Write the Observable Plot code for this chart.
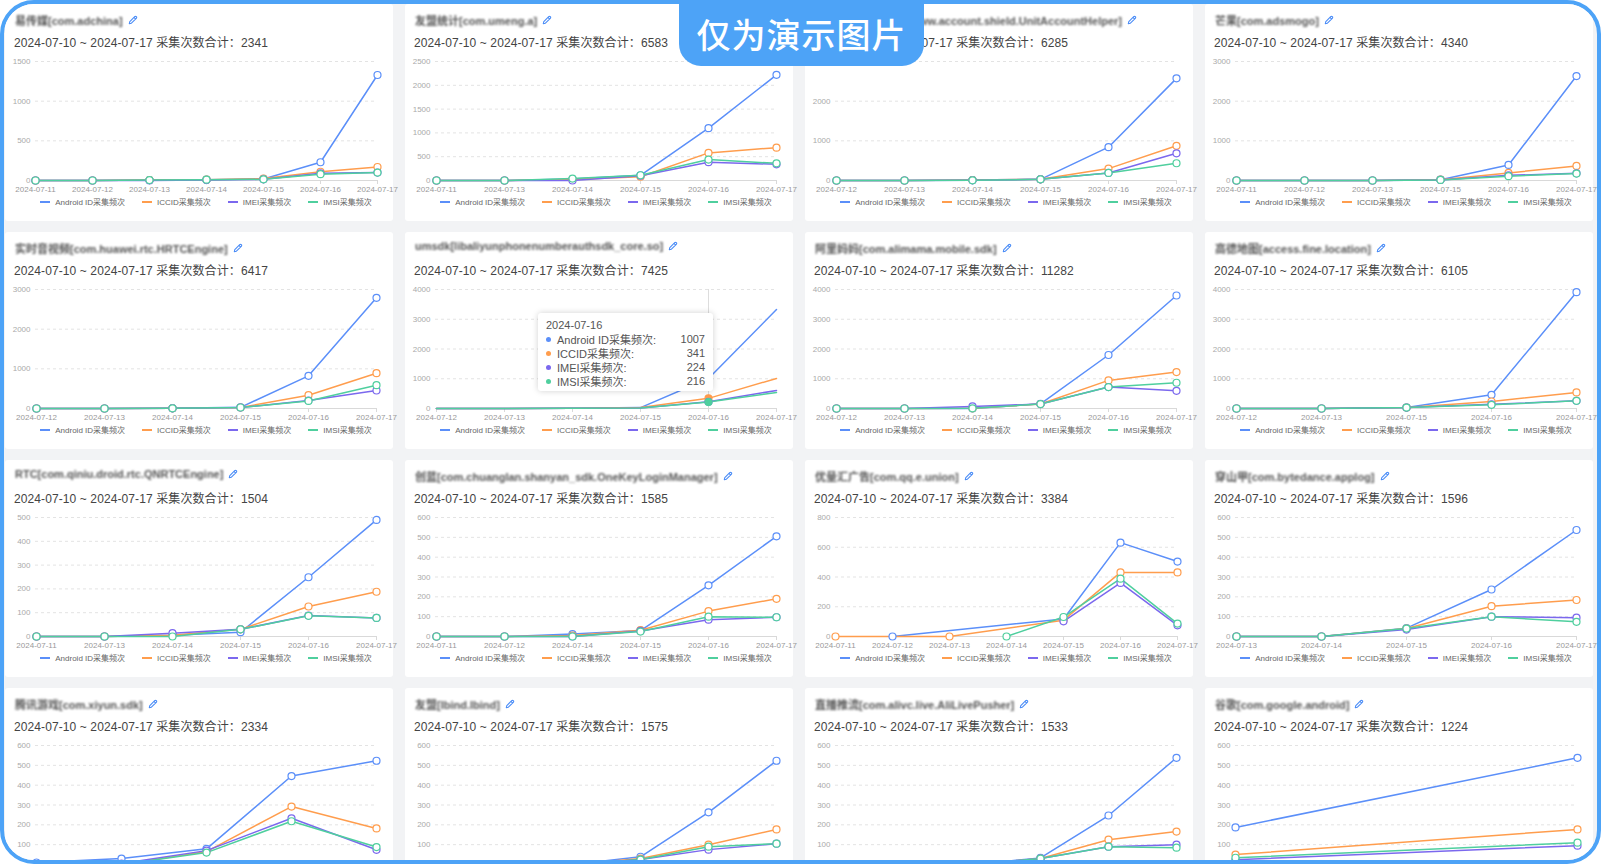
<!DOCTYPE html>
<html><head><meta charset="utf-8">
<script src="https://cdn.jsdelivr.net/npm/d3@7"></script>
<script src="https://cdn.jsdelivr.net/npm/@observablehq/plot@0.6"></script>
<style>
body{margin:0;background:#fff;width:1601px;height:864px;overflow:hidden;font-family:"Liberation Sans","Noto Sans CJK SC",sans-serif;}
#frame{position:absolute;left:0;top:0;width:1601px;height:864px;box-sizing:border-box;border:4px solid #4DA3F7;border-radius:34px;overflow:hidden;background:#f2f3f5;}
.card{position:absolute;width:388px;height:217px;background:#fff;border-radius:3px;}
.title{position:absolute;left:10px;top:8px;font-size:11px;font-weight:bold;color:#555;white-space:nowrap;display:flex;align-items:center;gap:5px;}
.title .t{filter:blur(1.3px);}
.sub{position:absolute;left:9px;top:29px;font-size:12px;color:#444;white-space:nowrap;letter-spacing:0.1px;}
.legend{position:absolute;left:30px;width:342px;top:192px;display:flex;justify-content:center;gap:17px;font-size:8px;color:#666;white-space:nowrap;}
.legend i{display:inline-block;width:10px;height:1.5px;margin-right:5px;vertical-align:middle;position:relative;top:-1px;}
.tip{position:absolute;background:#fff;border-radius:3px;box-shadow:0 0 6px rgba(0,0,0,0.18);font-size:11px;color:#555;padding:4px 8px 0 8px;box-sizing:border-box;}
.tip .row{display:flex;align-items:center;height:14px;}
.tip .row b{display:inline-block;width:5px;height:5px;border-radius:50%;margin-right:6px;}
.tip .row .v{margin-left:auto;}
#badge{position:absolute;left:679px;top:0;width:245px;height:66px;background:#4DA3F7;border-radius:0 0 22px 22px;color:#fff;font-family:"Noto Sans CJK SC",sans-serif;font-size:34px;font-weight:500;display:flex;align-items:center;justify-content:center;letter-spacing:1px;}
</style></head>
<body>
<div id="frame"></div>
<div id="badge">仅为演示图片</div>
<script>
const seriesNames = ["Android ID采集频次", "ICCID采集频次", "IMEI采集频次", "IMSI采集频次"];
const seriesColors = ["#5B8FF9", "#FF9D4D", "#7B68EE", "#4FCF9E"];
const rangeLabel = "2024-07-10 ~ 2024-07-17 采集次数合计：";

const chartTitles = [
  "易传媒[com.adchina]", "友盟统计[com.umeng.a]", "数美科技风控[com.www.account.shield.UnitAccountHelper]", "芒果[com.adsmogo]",
  "实时音视频[com.huawei.rtc.HRTCEngine]", "umsdk[libaliyunphonenumberauthsdk_core.so]", "阿里妈妈[com.alimama.mobile.sdk]", "高德地图[access.fine.location]",
  "RTC[com.qiniu.droid.rtc.QNRTCEngine]", "创蓝[com.chuanglan.shanyan_sdk.OneKeyLoginManager]", "优量汇广告[com.qq.e.union]", "穿山甲[com.bytedance.applog]",
  "腾讯游戏[com.xiyun.sdk]", "友盟[Ibind.Ibind]", "直播推流[com.alivc.live.AliLivePusher]", "谷歌[com.google.android]"
];
const chartTotals = [2341, 6583, 6285, 4340, 6417, 7425, 11282, 6105, 1504, 1585, 3384, 1596, 2334, 1575, 1533, 1224];

const chartDates = [
  ["2024-07-11","2024-07-12","2024-07-13","2024-07-14","2024-07-15","2024-07-16","2024-07-17"],
  ["2024-07-11","2024-07-13","2024-07-14","2024-07-15","2024-07-16","2024-07-17"],
  ["2024-07-12","2024-07-13","2024-07-14","2024-07-15","2024-07-16","2024-07-17"],
  ["2024-07-11","2024-07-12","2024-07-13","2024-07-15","2024-07-16","2024-07-17"],
  ["2024-07-12","2024-07-13","2024-07-14","2024-07-15","2024-07-16","2024-07-17"],
  ["2024-07-12","2024-07-13","2024-07-14","2024-07-15","2024-07-16","2024-07-17"],
  ["2024-07-12","2024-07-13","2024-07-14","2024-07-15","2024-07-16","2024-07-17"],
  ["2024-07-12","2024-07-13","2024-07-15","2024-07-16","2024-07-17"],
  ["2024-07-11","2024-07-13","2024-07-14","2024-07-15","2024-07-16","2024-07-17"],
  ["2024-07-11","2024-07-12","2024-07-14","2024-07-15","2024-07-16","2024-07-17"],
  ["2024-07-11","2024-07-12","2024-07-13","2024-07-14","2024-07-15","2024-07-16","2024-07-17"],
  ["2024-07-13","2024-07-14","2024-07-15","2024-07-16","2024-07-17"],
  ["2024-07-13","2024-07-14","2024-07-15","2024-07-16","2024-07-17"],
  ["2024-07-12","2024-07-13","2024-07-14","2024-07-15","2024-07-16","2024-07-17"],
  ["2024-07-12","2024-07-13","2024-07-14","2024-07-15","2024-07-16","2024-07-17"],
  ["2024-07-16","2024-07-17"]
];

const androidIdValues = [
  [0,0,5,10,20,230,1330],
  [0,0,30,110,1100,2220],
  [0,0,10,30,840,2575],
  [0,0,0,20,392,2633],
  [0,0,5,30,823,2790],
  [0,0,5,30,1007,3326],
  [0,0,0,157,1798,3798],
  [0,0,30,460,3910],
  [0,0,5,18,249,490],
  [0,0,12,30,258,505],
  [null,0,null,null,118,631,504],
  [0,0,42,237,537],
  [10,30,79,446,523],
  [0,0,0,39,263,523],
  [0,0,0,33,247,538],
  [187,538]
];
const iccidValues = [
  [0,0,5,10,25,110,170],
  [0,0,20,80,580,690],
  [0,0,10,30,300,875],
  [0,0,0,20,190,367],
  [0,0,5,25,336,890],
  [0,0,5,30,341,1011],
  [0,0,5,150,944,1225],
  [0,0,30,236,540],
  [0,0,5,30,126,188],
  [0,0,5,32,128,190],
  [0,null,0,null,110,431,431],
  [0,0,40,153,184],
  [0,0,65,292,182],
  [0,0,0,30,100,177],
  [0,0,0,30,125,166],
  [50,177]
];
const imeiValues = [
  [0,0,0,5,15,90,100],
  [0,0,0,100,385,340],
  [0,0,5,30,190,685],
  [0,0,0,15,130,180],
  [0,0,5,25,200,454],
  [0,0,5,20,224,607],
  [0,0,70,150,720,595],
  [0,0,30,140,260],
  [0,0,14,30,88,78],
  [0,0,0,28,85,97],
  [null,null,null,null,102,360,75],
  [0,0,35,100,95],
  [0,5,70,233,74],
  [0,0,0,25,75,105],
  [0,0,0,30,90,100],
  [24,95]
];
const imsiValues = [
  [0,0,5,10,15,80,100],
  [0,0,40,110,440,360],
  [0,0,5,30,190,435],
  [0,0,0,15,108,175],
  [0,0,5,25,190,588],
  [0,0,5,20,216,540],
  [0,0,5,150,720,865],
  [0,0,30,124,258],
  [0,0,0,30,87,78],
  [0,0,0,25,100,97],
  [null,null,null,0,131,389,87],
  [0,0,40,100,74],
  [0,0,60,218,88],
  [0,0,0,25,90,105],
  [0,0,0,30,90,85],
  [34,110]
];
const yTicks = [
  [0,500,1000,1500],
  [0,500,1000,1500,2000,2500],
  [0,1000,2000,3000],
  [0,1000,2000,3000],
  [0,1000,2000,3000],
  [0,1000,2000,3000,4000],
  [0,1000,2000,3000,4000],
  [0,1000,2000,3000,4000],
  [0,100,200,300,400,500],
  [0,100,200,300,400,500,600],
  [0,200,400,600,800],
  [0,100,200,300,400,500,600],
  [0,100,200,300,400,500,600],
  [0,100,200,300,400,500,600],
  [0,100,200,300,400,500,600],
  [0,100,200,300,400,500,600]
];
const tooltipChart = 5;
const tooltipDate = "2024-07-16";

const colLeft = [1, 401, 801, 1201];
const rowTop = [0, 228, 456, 684];
const frame = document.getElementById("frame");
const pencil = '<svg width="10" height="10" viewBox="0 0 10 10"><path d="M1.3 8.7 L1.8 6.6 L6.7 1.7 Q7.5 0.9 8.3 1.7 Q9.1 2.5 8.3 3.3 L3.4 8.2 Z M6 2.4 L7.6 4" fill="none" stroke="#4a8cf7" stroke-width="1.1" stroke-linejoin="round"/></svg>';

const allSeries = [androidIdValues, iccidValues, imeiValues, imsiValues];

for (let i = 0; i < 16; i++) {
  const card = document.createElement("div");
  card.className = "card";
  card.style.left = colLeft[i % 4] + "px";
  card.style.top = rowTop[Math.floor(i / 4)] + "px";

  const title = document.createElement("div");
  title.className = "title";
  title.innerHTML = '<span class="t"></span>' + pencil;
  title.querySelector(".t").textContent = chartTitles[i];
  card.appendChild(title);

  const sub = document.createElement("div");
  sub.className = "sub";
  sub.textContent = rangeLabel + chartTotals[i];
  card.appendChild(sub);

  const dates = chartDates[i];
  const rows = [];
  allSeries.forEach((arr, s) => {
    arr[i].forEach((v, k) => {
      if (v !== null && v !== undefined) rows.push({date: dates[k], value: v, series: seriesNames[s]});
    });
  });
  const ticks = yTicks[i];
  const marks = [
    Plot.gridY(ticks.filter(t => t > 0), {stroke: "#e3e3e3", strokeOpacity: 1, strokeDasharray: "3,3"}),
    Plot.axisY(ticks, {tickSize: 0, tickPadding: 5, fill: "#aaa", label: null, tickFormat: d3.format("d")}),
    Plot.ruleY([0], {stroke: "#d9d9d9"}),
    Plot.axisX({tickSize: 4, stroke: "#d9d9d9", fill: "#999", tickPadding: 2, label: null})
  ];
  if (i === tooltipChart) marks.push(Plot.ruleX([tooltipDate], {y1: 0, y2: ticks[ticks.length - 1], stroke: "#ddd"}));
  marks.push(Plot.line(rows, {x: "date", y: "value", z: "series", stroke: "series", strokeWidth: 1.5}));
  marks.push(Plot.dot(rows, {x: "date", y: "value", stroke: "series", fill: d => (i === tooltipChart && d.date === tooltipDate) ? d.series : "#fff", r: 3.5, strokeWidth: 1.2}));

  const svg = Plot.plot({
    width: 388, height: 150,
    marginLeft: 30, marginRight: 16, marginTop: 12, marginBottom: 19,
    style: {fontSize: "8px", fontFamily: "Liberation Sans, Noto Sans CJK SC, sans-serif", background: "transparent", overflow: "visible"},
    x: {type: "point", domain: dates, padding: 0},
    y: {domain: [0, ticks[ticks.length - 1]]},
    color: {domain: seriesNames, range: seriesColors},
    marks
  });
  svg.style.position = "absolute";
  svg.style.left = "0px";
  svg.style.top = "45px";
  card.appendChild(svg);

  const legend = document.createElement("div");
  legend.className = "legend";
  seriesNames.forEach((n, s) => {
    const sp = document.createElement("span");
    sp.innerHTML = '<i style="background:' + seriesColors[s] + '"></i>';
    sp.appendChild(document.createTextNode(n));
    legend.appendChild(sp);
  });
  card.appendChild(legend);

  if (i === tooltipChart) {
    const tip = document.createElement("div");
    tip.className = "tip";
    tip.style.left = "133px"; tip.style.top = "81px"; tip.style.width = "175px"; tip.style.height = "78px";
    let html = '<div class="row" style="height:15px">' + tooltipDate + '</div>';
    const k = dates.indexOf(tooltipDate);
    seriesNames.forEach((n, s) => {
      html += '<div class="row"><b style="background:' + seriesColors[s] + '"></b>' + n + ':<span class="v">' + allSeries[s][i][k] + '</span></div>';
    });
    tip.innerHTML = html;
    card.appendChild(tip);
  }
  frame.appendChild(card);
}
</script>
</body></html>
